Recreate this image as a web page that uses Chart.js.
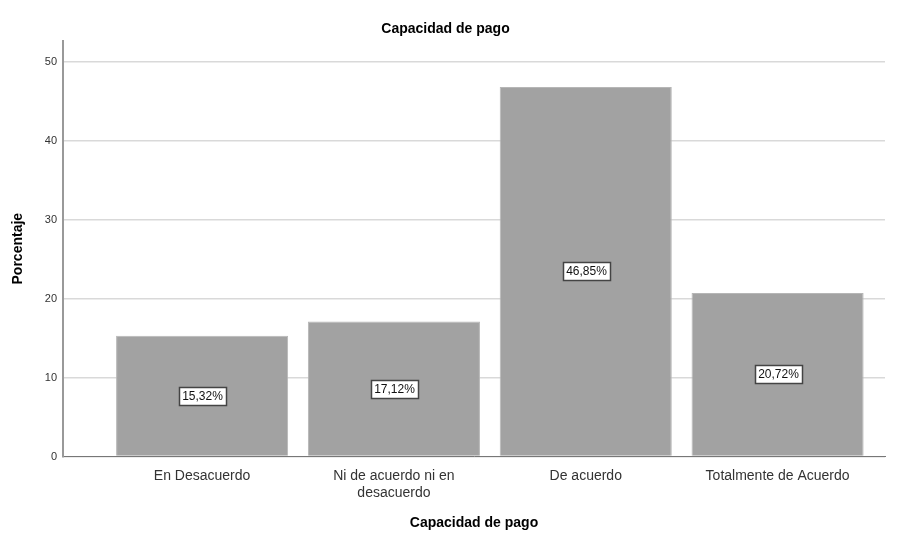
<!DOCTYPE html>
<html lang="es">
<head>
  <meta charset="UTF-8" />
  <title>Capacidad de pago</title>
  <script src="https://cdn.jsdelivr.net/npm/chart.js"></script>
  <style>
    html, body { margin: 0; padding: 0; background: #fff; }
    #wrap { width: 902px; height: 535px; }
  </style>
</head>
<body>
  <div id="wrap"><canvas id="chart"></canvas></div>

  <script>
    // data
    const categories = [
      'En Desacuerdo',
      ['Ni de acuerdo ni en', 'desacuerdo'],
      'De acuerdo',
      'Totalmente de Acuerdo'
    ];
    const percentages = [15.32, 17.12, 46.85, 20.72];
    const yTicks = [0, 10, 20, 30, 40, 50];

    const font = "'Liberation Sans', Arial, sans-serif";

    // boxed value labels in the middle of each bar
    const boxLabels = {
      id: 'boxLabels',
      afterDatasetsDraw(chart) {
        const ctx = chart.ctx;
        const meta = chart.getDatasetMeta(0);
        ctx.save();
        ctx.font = '12px ' + font;
        ctx.textAlign = 'center';
        ctx.textBaseline = 'middle';
        meta.data.forEach((bar, i) => {
          const txt = percentages[i].toFixed(2).replace('.', ',') + '%';
          const w = Math.round(ctx.measureText(txt).width + 6);
          const h = 18;
          const cx = Math.round(bar.x);
          const cy = Math.round((bar.y + bar.base) / 2);
          const left = Math.round(cx - w / 2), top = cy - h / 2;
          ctx.fillStyle = '#fff';
          ctx.fillRect(left, top, w, h);
          ctx.strokeStyle = '#444';
          ctx.lineWidth = 1.5;
          ctx.strokeRect(left + 0.5, top + 0.5, w, h);
          ctx.fillStyle = '#111';
          ctx.fillText(txt, cx + 0.5, cy + 1);
        });
        ctx.restore();
      }
    };

    new Chart(document.getElementById('chart'), {
      type: 'bar',
      data: {
        datasets: [{
          label: 'Capacidad de pago',
          data: percentages.map((v, i) => ({ x: i, y: v })),
          backgroundColor: '#a2a2a2',
          borderColor: '#b6b6b6',
          borderWidth: 1,
          barPercentage: 0.897,
          categoryPercentage: 1
        }]
      },
      options: {
        responsive: true,
        maintainAspectRatio: false,
        animation: false,
        layout: { padding: { left: 6, right: 17, top: 4, bottom: 0 } },
        plugins: {
          legend: { display: false },
          tooltip: { enabled: false },
          title: {
            display: true,
            text: 'Capacidad de pago',
            color: '#000',
            font: { family: font, size: 14, weight: 'bold' },
            padding: { top: 17, bottom: 3 }
          }
        },
        scales: {
          x: {
            type: 'linear',
            offset: false,
            min: -0.725,
            max: 3.56,
            afterBuildTicks: s => { s.ticks = categories.map((c, i) => ({ value: i })); },
            ticks: {
              callback: v => categories[v],
              color: '#333',
              font: { family: font, size: 14 },
              padding: 11,
              maxRotation: 0,
              autoSkip: false
            },
            grid: { display: false, drawTicks: false },
            border: { color: '#777', width: 1 },
            title: {
              display: true,
              text: 'Capacidad de pago',
              color: '#000',
              font: { family: font, size: 14, weight: 'bold' },
              padding: { top: 3, bottom: 3 }
            }
          },
          y: {
            min: 0,
            max: 52.7,
            afterBuildTicks: s => { s.ticks = yTicks.map(v => ({ value: v })); },
            ticks: {
              color: '#333',
              font: { family: font, size: 11 },
              padding: 6
            },
            grid: { color: '#d9d9d9', lineWidth: 1.5, drawTicks: false },
            border: { color: '#999', width: 2 },
            title: {
              display: true,
              text: 'Porcentaje',
              color: '#000',
              font: { family: font, size: 14, weight: 'bold' },
              padding: { bottom: 12 }
            }
          }
        }
      },
      plugins: [boxLabels]
    });
  </script>
</body>
</html>
